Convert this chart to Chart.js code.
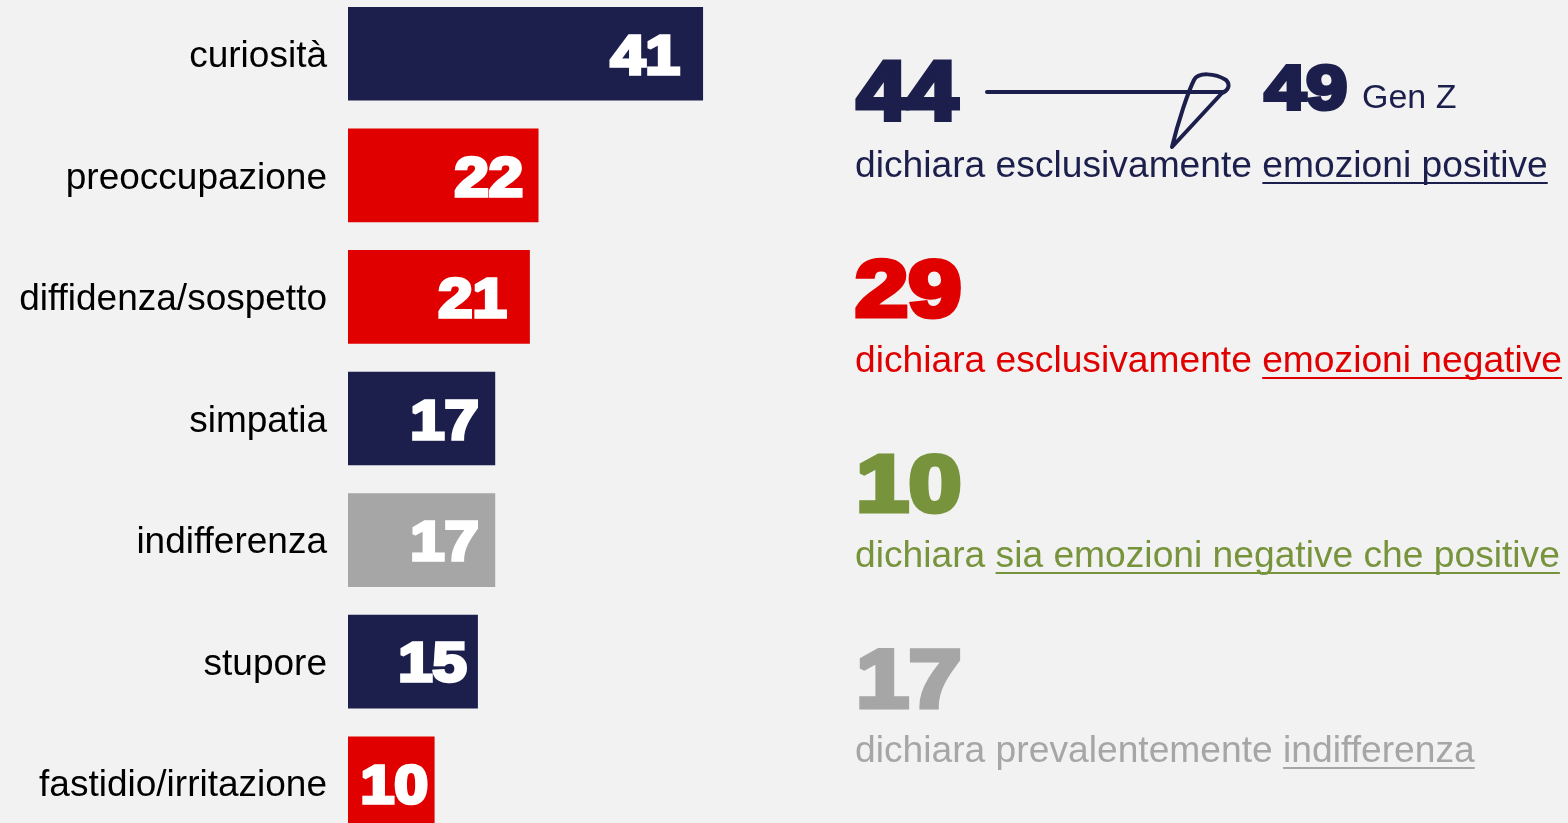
<!DOCTYPE html>
<html>
<head>
<meta charset="utf-8">
<script src="https://cdn.jsdelivr.net/npm/chart.js@4.4.1/dist/chart.umd.min.js"></script>
<style>
  html, body { margin: 0; padding: 0; background: #f2f2f2; overflow: hidden; }
  #wrap { position: relative; width: 1568px; height: 823px; overflow: hidden; }
  #chart { position: absolute; left: 0; top: -7px; }
</style>
</head>
<body>
<div id="wrap"><canvas id="chart" width="1568" height="851"></canvas></div>
<script>
// colours
var NAVY = '#1c1f4c', RED = '#e00000', GRAY = '#a6a6a6', GREEN = '#77933c';

// bar chart data
var categories = ['curiosità', 'preoccupazione', 'diffidenza/sospetto', 'simpatia', 'indifferenza', 'stupore', 'fastidio/irritazione'];
var values = [41, 22, 21, 17, 17, 15, 10];
var barColors = [NAVY, RED, RED, NAVY, GRAY, NAVY, RED];

// summary block on the right
var summaryValues = [44, 29, 10, 17];
var summaryLead = ['dichiara esclusivamente ', 'dichiara esclusivamente ', 'dichiara ', 'dichiara prevalentemente '];
var summaryUnderlined = ['emozioni positive', 'emozioni negative', 'sia emozioni negative che positive', 'indifferenza'];
var summaryColors = [NAVY, RED, GREEN, GRAY];
var genZValue = 49;
var genZLabel = 'Gen Z';

var FONT = '"Liberation Sans", Arial, sans-serif';
var OY = 7; // canvas sits 7px above the page

// space the heavy (Arial Black like) digits leave after their ink
var tailSpace = { '0': 7, '1': 23, '2': 16, '5': 11, '7': 17 };

function setHeavy(ctx, color, stroke) {
    ctx.fillStyle = color;
    ctx.strokeStyle = color;
    ctx.lineWidth = stroke;
    ctx.lineJoin = 'miter';
    ctx.miterLimit = 2;
    ctx.textAlign = 'left';
    ctx.textBaseline = 'alphabetic';
}

// heavy digits: bold + stroke, scaled so the ink fills a box
function heavyText(ctx, text, left, right, top, bottom, color, stroke) {
    ctx.font = 'bold 100px ' + FONT;
    var m = ctx.measureText(text);
    var inkH = m.actualBoundingBoxAscent + m.actualBoundingBoxDescent;
    var k = (bottom - top - stroke) / inkH;
    var inkW = (m.actualBoundingBoxLeft + m.actualBoundingBoxRight) * k + stroke;
    var sx = (right - left) / inkW;
    ctx.save();
    ctx.translate(left, bottom - stroke / 2 - m.actualBoundingBoxDescent * k);
    ctx.scale(sx, 1);
    ctx.font = 'bold ' + (100 * k) + 'px ' + FONT;
    setHeavy(ctx, color, stroke);
    var x0 = m.actualBoundingBoxLeft * k + stroke / 2;
    ctx.fillText(text, x0, 0);
    ctx.strokeText(text, x0, 0);
    ctx.restore();
}

// heavy digits with ink right edge at `right`, fixed horizontal stretch
function heavyTextRight(ctx, text, right, top, bottom, sx, color, stroke) {
    ctx.font = 'bold 100px ' + FONT;
    var m = ctx.measureText(text);
    var inkH = m.actualBoundingBoxAscent + m.actualBoundingBoxDescent;
    var k = (bottom - top - stroke) / inkH;
    ctx.save();
    ctx.translate(right - stroke / 2, bottom - stroke / 2 - m.actualBoundingBoxDescent * k);
    ctx.scale(sx, 1);
    ctx.font = 'bold ' + (100 * k) + 'px ' + FONT;
    setHeavy(ctx, color, stroke);
    var x0 = -m.actualBoundingBoxRight * k;
    ctx.fillText(text, x0, 0);
    ctx.strokeText(text, x0, 0);
    ctx.restore();
}

// line of text fitted between left and right, with the tail underlined
function summaryLine(ctx, lead, under, left, right, baseline, color) {
    ctx.font = '100px ' + FONT;
    var w100 = ctx.measureText(lead + under).width;
    var fs = 100 * (right - left) / w100;
    ctx.font = fs + 'px ' + FONT;
    ctx.textAlign = 'left';
    ctx.textBaseline = 'alphabetic';
    ctx.fillStyle = color;
    ctx.fillText(lead + under, left, baseline);
    var leadW = ctx.measureText(lead).width;
    var underW = ctx.measureText(under).width;
    ctx.fillRect(left + leadW, baseline + 5, underW, 2);
}

var extras = {
    id: 'extras',
    afterDatasetsDraw: function (chart) {
        var ctx = chart.ctx;
        var meta = chart.getDatasetMeta(0);
        // values inside the bars
        meta.data.forEach(function (bar, i) {
            var txt = String(values[i]);
            var tail = tailSpace[txt.charAt(txt.length - 1)] || 10;
            heavyTextRight(ctx, txt, bar.x - tail, bar.y - 20, bar.y + 22, 1.12, '#ffffff', 3.5);
        });
    },
    afterDraw: function (chart) {
        var ctx = chart.ctx;
        ctx.save();
        ctx.translate(0, OY);

        var tops = [60, 257, 452, 647];
        var baselines = [177, 372, 567, 762];
        var rights = [1548, 1562, 1560, 1475];
        summaryValues.forEach(function (v, i) {
            var l = String(v).charAt(0) === '1' ? 859 : 855;
            heavyText(ctx, String(v), l, 961, tops[i], tops[i] + 62, summaryColors[i], 5);
            summaryLine(ctx, summaryLead[i], summaryUnderlined[i], 855, rights[i], baselines[i], summaryColors[i]);
        });

        // Gen Z comparison
        heavyText(ctx, String(genZValue), 1263, 1347, 63, 112, NAVY, 4);
        ctx.font = '34px ' + FONT;
        ctx.fillStyle = NAVY;
        ctx.textAlign = 'left';
        ctx.fillText(genZLabel, 1362, 108);

        // hand-drawn arrow
        ctx.strokeStyle = NAVY;
        ctx.lineWidth = 4;
        ctx.lineCap = 'round';
        ctx.lineJoin = 'round';
        ctx.beginPath();
        ctx.moveTo(987, 92);
        ctx.lineTo(1222, 92);
        ctx.stroke();
        ctx.beginPath();
        ctx.moveTo(1222, 93);
        ctx.lineTo(1172, 147);
        ctx.bezierCurveTo(1178, 122, 1188, 92, 1194, 80);
        ctx.bezierCurveTo(1198, 72, 1215, 73, 1226, 80);
        ctx.bezierCurveTo(1231, 85, 1228, 91, 1222, 93);
        ctx.stroke();

        ctx.restore();
    }
};

var ctx = document.getElementById('chart').getContext('2d');
new Chart(ctx, {
    type: 'bar',
    data: {
        labels: categories,
        datasets: [{
            data: values,
            backgroundColor: barColors,
            borderWidth: 0,
            barPercentage: 0.77,
            categoryPercentage: 1
        }]
    },
    options: {
        indexAxis: 'y',
        responsive: false,
        animation: false,
        events: [],
        layout: { padding: { left: 0, right: 787, top: 0, bottom: 0 } },
        plugins: {
            legend: { display: false },
            tooltip: { enabled: false },
            title: { display: false }
        },
        scales: {
            x: {
                display: false,
                min: 0,
                max: 50,
                grid: { display: false }
            },
            y: {
                grid: { display: false, drawTicks: false },
                border: { display: false },
                ticks: {
                    color: '#000000',
                    padding: 21,
                    labelOffset: 3,
                    font: { family: FONT, size: 37 }
                },
                afterFit: function (scale) {
                    scale.width = 348;
                    scale.paddingTop = 0;
                    scale.paddingBottom = 0;
                }
            }
        }
    },
    plugins: [extras]
});
</script>
</body>
</html>
